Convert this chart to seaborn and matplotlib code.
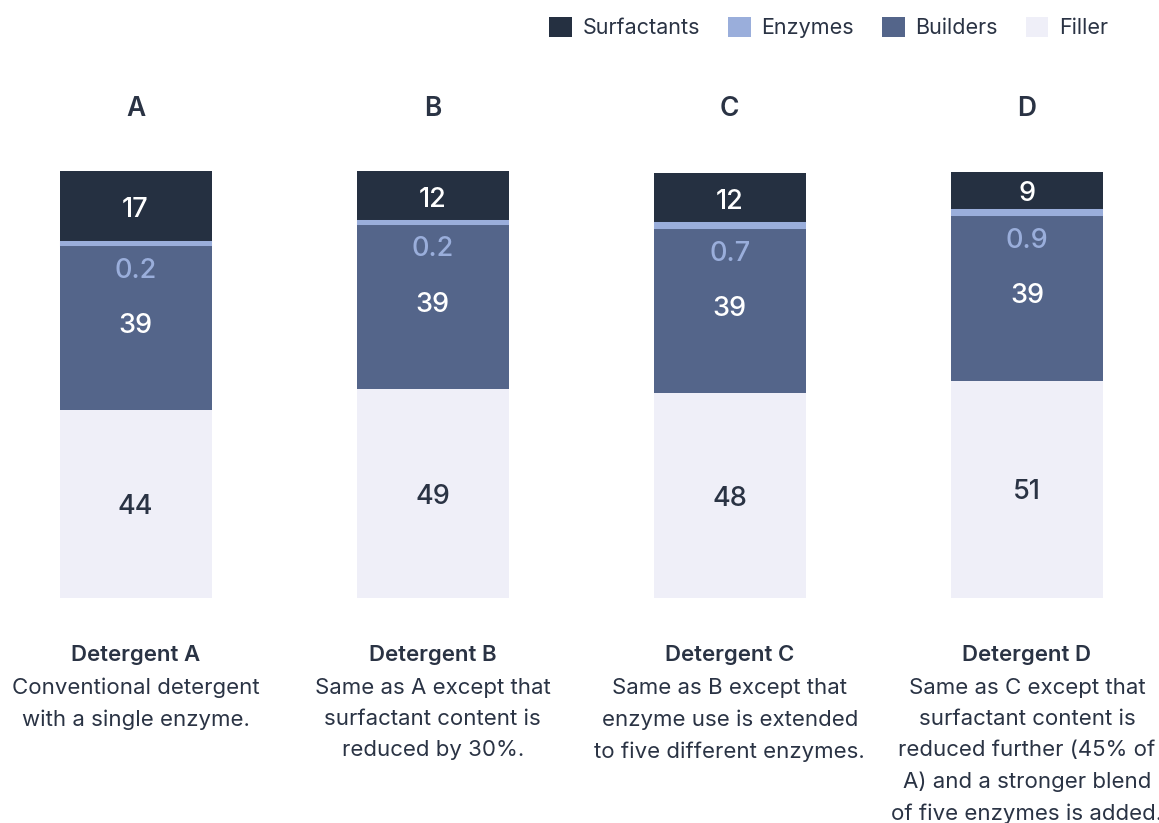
import matplotlib
matplotlib.use("Agg")
import matplotlib.pyplot as plt
import matplotlib.transforms as mtransforms
from matplotlib.patches import Patch
import numpy as np
import pandas as pd
import seaborn as sns

# Composition of four detergent formulations (% by weight)
categories = ["A", "B", "C", "D"]
surfactants = [17, 12, 12, 9]
enzymes = [0.2, 0.2, 0.7, 0.9]
builders = [39, 39, 39, 39]
filler = [44, 49, 48, 51]

titles = ["Detergent A", "Detergent B", "Detergent C", "Detergent D"]
descriptions = [
    "Conventional detergent\nwith a single enzyme.",
    "Same as A except that\nsurfactant content is\nreduced by 30%.",
    "Same as B except that\nenzyme use is extended\nto five different enzymes.",
    "Same as C except that\nsurfactant content is\nreduced further (45% of\nA) and a stronger blend\nof five enzymes is added.",
]

series_names = ["Surfactants", "Enzymes", "Builders", "Filler"]
colors = {
    "Surfactants": "#253041",
    "Enzymes": "#9aaedb",
    "Builders": "#54658a",
    "Filler": "#efeff8",
}
TEXT = "#2a3344"

sns.set_theme(style="white")
plt.rcParams["font.family"] = ["Inter", "DejaVu Sans"]

df = pd.DataFrame({
    "detergent": categories,
    "Surfactants": surfactants,
    "Enzymes": enzymes,
    "Builders": builders,
    "Filler": filler,
})
df["b_builders"] = df["Filler"]
df["b_enzymes"] = df["Filler"] + df["Builders"]
df["b_surf"] = df["b_enzymes"] + df["Enzymes"]

W, H = 1159, 823
fig = plt.figure(figsize=(W / 100, H / 100), dpi=100)
ax = fig.add_axes([0, (H - 598) / H, 1, (598 - 171) / H])

unit_px = 297.1
left_px = 135.6
bar_w = 152 / unit_px
common = dict(data=df, x="detergent", order=categories, linewidth=0, saturation=1)

sns.barplot(y="Filler", color=colors["Filler"], width=bar_w, **common, ax=ax)
sns.barplot(y="Builders", bottom=df["b_builders"], color=colors["Builders"],
            width=bar_w, **common, ax=ax)
sns.barplot(y="Surfactants", bottom=df["b_surf"], color=colors["Surfactants"],
            width=bar_w, **common, ax=ax)
# thin enzyme band gets an outline of its own colour so it stays visible
sns.barplot(data=df, x="detergent", order=categories, y="Enzymes",
            bottom=df["b_enzymes"], color=colors["Enzymes"],
            width=bar_w - 4 / unit_px, saturation=1,
            edgecolor=colors["Enzymes"], linewidth=2.9, ax=ax)

ax.set_xlim(-left_px / unit_px, (W - left_px) / unit_px)
ax.set_ylim(0, 100.2)
ax.set_ylabel("")
ax.set_xlabel("")
ax.set_yticks([])
sns.despine(ax=ax, left=True, bottom=True)

# column letters above bars
ax.xaxis.tick_top()
ax.set_xticks(range(len(categories)))
ax.set_xticklabels(categories, fontsize=19, fontweight="semibold", color=TEXT)
ax.tick_params(axis="x", length=0, pad=35)

# segment value labels
val_fs = 19.5
vw = "medium"
for i in range(len(categories)):
    f, b, e, s = filler[i], builders[i], enzymes[i], surfactants[i]
    ax.text(i, f / 2, f"{f:g}", ha="center", va="center_baseline", fontsize=val_fs,
            color=TEXT, fontweight=vw)
    ax.text(i, f + b / 2 + 1, f"{b:g}", ha="center", va="center_baseline", fontsize=val_fs,
            color="white", fontweight=vw)
    ax.text(i, f + b - 5.5, f"{e:g}", ha="center", va="center_baseline", fontsize=val_fs,
            color=colors["Enzymes"], fontweight=vw)
    ax.text(i, f + b + e + s / 2, f"{s:g}", ha="center", va="center_baseline",
            fontsize=val_fs, color="white", fontweight=vw)

# descriptions under bars
trans = mtransforms.blended_transform_factory(ax.transData, fig.transFigure)
for i in range(len(categories)):
    ax.text(i, 1 - 655 / H, titles[i], transform=trans, ha="center", va="center",
            fontsize=16, fontweight="semibold", color=TEXT)
    ax.text(i, 1 - 678 / H, descriptions[i], transform=trans, ha="center", va="top",
            fontsize=16, color=TEXT, linespacing=1.69)

handles = [Patch(facecolor=colors[n], edgecolor="none", label=n) for n in series_names]
fig.legend(handles=handles, loc="upper right", bbox_to_anchor=(1119 / W, 1 - 6 / H),
           ncol=4, frameon=False, fontsize=15.5, handlelength=1.05, handleheight=1.1,
           handletextpad=0.5, columnspacing=1.3, borderpad=0, labelcolor=TEXT)

fig.savefig("out.png", dpi=100)
